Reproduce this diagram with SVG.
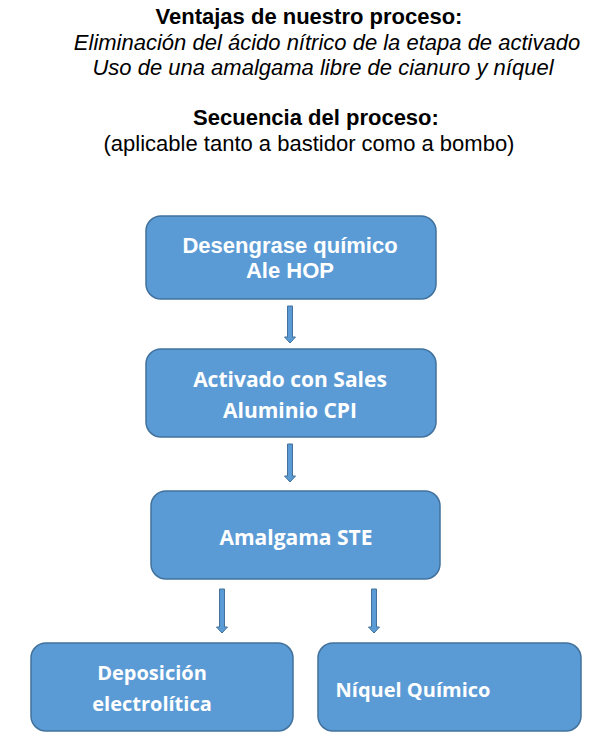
<svg xmlns="http://www.w3.org/2000/svg" width="595" height="743" viewBox="0 0 595 743">
<style>
.box{fill:#5b9bd5;stroke:#41719c;stroke-width:1.5}
.hdr{font-family:"Liberation Sans",Arial,sans-serif;font-size:22px;fill:#000;text-anchor:middle}
.b{font-weight:bold}
.i{font-style:italic}
.t1{font-family:"Liberation Sans",Arial,sans-serif;font-weight:bold;font-size:22px;fill:#fff;text-anchor:middle}
.t2{font-family:"Open Sans","Noto Sans",sans-serif;font-weight:bold;font-size:21px;fill:#fff;text-anchor:middle}
.t3{font-family:"Open Sans","Noto Sans",sans-serif;font-weight:bold;font-size:20px;fill:#fff;text-anchor:middle}
.arr{fill:#5b9bd5;stroke:#41719c;stroke-width:1}
</style>
<rect width="595" height="743" fill="#fff"/>
<g id="header">
<text class="hdr b" x="309" y="24">Ventajas de nuestro proceso:</text>
<text class="hdr i" x="327" y="50">Eliminación del ácido nítrico de la etapa de activado</text>
<text class="hdr i" x="323" y="75">Uso de una amalgama libre de cianuro y níquel</text>
<text class="hdr b" x="316" y="125">Secuencia del proceso:</text>
<text class="hdr" x="309" y="151">(aplicable tanto a bastidor como a bombo)</text>
</g>
<g id="n1">
<rect class="box" x="146" y="216" width="290" height="83" rx="15"/>
<text class="t1" x="290" y="253">Desengrase químico</text>
<text class="t1" x="290" y="278">Ale HOP</text>
</g>
<g id="n2">
<rect class="box" x="146" y="349" width="290" height="88" rx="15"/>
<text class="t2" x="290" y="387">Activado con Sales</text>
<text class="t2" x="290" y="418">Aluminio CPI</text>
</g>
<g id="n3">
<rect class="box" x="151" y="491" width="289" height="88" rx="15"/>
<text class="t2" x="296" y="545">Amalgama STE</text>
</g>
<g id="n4">
<rect class="box" x="31" y="643" width="262" height="88" rx="15"/>
<text class="t3" x="152" y="680">Deposición</text>
<text class="t3" x="152" y="711">electrolítica</text>
</g>
<g id="n5">
<rect class="box" x="318" y="643" width="263" height="88" rx="15"/>
<text class="t3" x="413" y="697">Níquel Químico</text>
</g>
<g id="connectors">
<path class="arr" d="M287.5 306 h5 v31 h3 l-5.5 6 l-5.5 -6 h3 z"/>
<path class="arr" d="M287.5 444 h5 v32 h3 l-5.5 6 l-5.5 -6 h3 z"/>
<path class="arr" d="M219.5 589 h5 v38 h3 l-5.5 6 l-5.5 -6 h3 z"/>
<path class="arr" d="M371.5 589 h5 v38 h3 l-5.5 6 l-5.5 -6 h3 z"/>
</g>
</svg>
